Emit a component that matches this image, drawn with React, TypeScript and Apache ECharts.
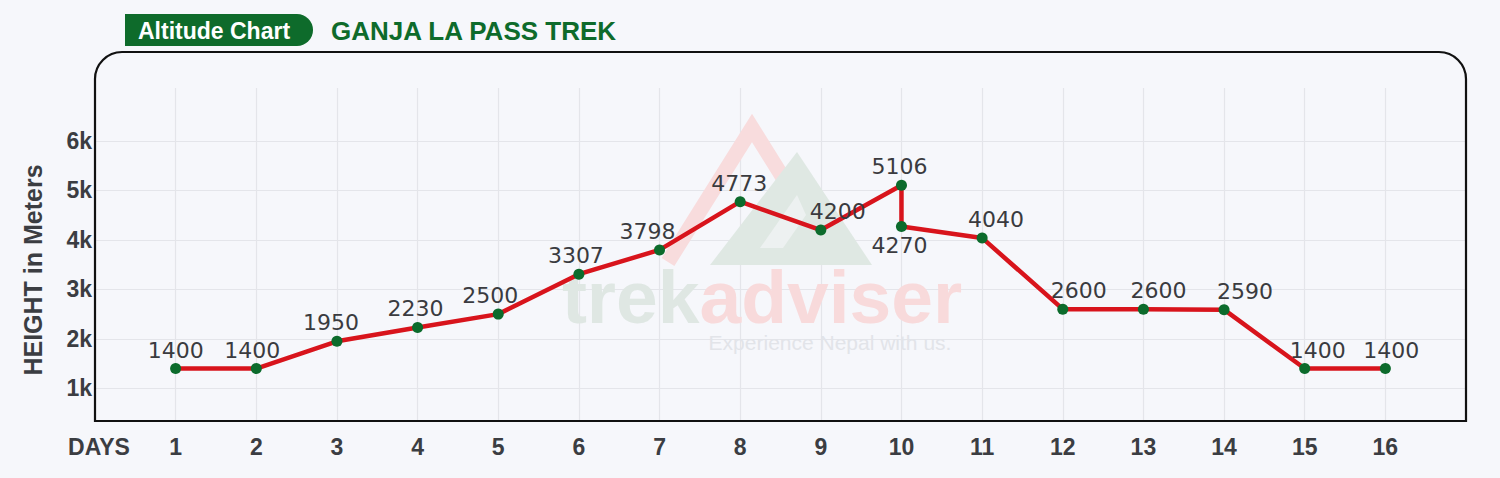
import React, { useEffect, useRef } from "react";
import * as echarts from "echarts";

const days = [1, 2, 3, 4, 5, 6, 7, 8, 9, 10, 10, 11, 12, 13, 14, 15, 16];
const heights = [1400, 1400, 1950, 2230, 2500, 3307, 3798, 4773, 4200, 5106, 4270, 4040, 2600, 2600, 2590, 1400, 1400];
const yTicks = [1000, 2000, 3000, 4000, 5000, 6000];
const xAxisTitle = "DAYS";
const yAxisTitle = "HEIGHT in Meters";
const badgeText = "Altitude Chart";
const titleText = "GANJA LA PASS TREK";

// label layout tweaks (horizontal shift, below-point flag)
const labelDx = [0, -4, -6, -2, -8, -3, -12, -1, 17, -2, -2, 14, 16, 15, 21, 13, 6];
const labelBelow = [false, false, false, false, false, false, false, false, false, false, true, false, false, false, false, false, false];

const BG = "#f6f7fb";
const GREEN = "#0e6b2b";
const TEXT = "#3b3d42";
const FONT = "Liberation Sans, Arial, sans-serif";

export default function App() {
  const ref = useRef<HTMLDivElement>(null);
  useEffect(() => {
    if (!ref.current) return;
    const chart = echarts.init(ref.current, null, { renderer: "svg" });
    const data = days.map((d, i) => ({
      value: [d, heights[i]],
      label: {
        position: labelBelow[i] ? "bottom" : "top",
        offset: [labelDx[i], 0],
      },
    }));
    chart.setOption({
      animation: false,
      backgroundColor: BG,
      grid: { left: 95, right: 34, top: 88, bottom: 57, containLabel: false },
      xAxis: {
        type: "value",
        min: 0,
        max: 17,
        interval: 1,
        axisLine: { show: false },
        axisTick: { show: false },
        splitLine: { show: true, lineStyle: { color: "#e4e5ea", width: 1.2 } },
        axisLabel: {
          margin: 14,
          color: TEXT,
          fontFamily: FONT,
          fontWeight: "bold",
          fontSize: 23,
          showMinLabel: true,
          showMaxLabel: true,
          formatter: (v: number) => (v === 0 ? "{d|" + xAxisTitle + "}" : v === 17 ? "" : String(v)),
          rich: {
            d: { color: TEXT, fontFamily: FONT, fontWeight: "bold", fontSize: 23, padding: [0, 0, 0, 8] },
          },
        },
      },
      yAxis: {
        type: "value",
        min: 340,
        max: 7070,
        axisLine: { show: false },
        axisTick: { show: false, customValues: yTicks },
        splitLine: { show: true, lineStyle: { color: "#e4e5ea", width: 1.2 } },
        axisLabel: {
          customValues: yTicks,
          margin: 3,
          color: TEXT,
          fontFamily: FONT,
          fontWeight: "bold",
          fontSize: 23,
          formatter: (v: number) => v / 1000 + "k",
        },
      },
      graphic: [
        {
          type: "polyline",
          z: 1,
          silent: true,
          shape: { points: [[668, 262], [752, 128], [800, 205]] },
          style: { fill: null, stroke: "#f8dcdd", lineWidth: 15, lineJoin: "miter" },
        },
        {
          type: "polygon",
          z: 1,
          silent: true,
          shape: { points: [[797, 152], [710, 265], [872, 265]] },
          style: { fill: "#dfe8e3" },
        },
        {
          type: "polygon",
          z: 1,
          silent: true,
          shape: { points: [[797, 195], [760, 248], [783, 248], [806, 215]] },
          style: { fill: "#edf1f1" },
        },
        {
          type: "text",
          z: 1,
          silent: true,
          x: 762,
          y: 297,
          style: {
            text: "{a|trek}{b|adviser}",
            align: "center",
            verticalAlign: "middle",
            rich: {
              a: { fontSize: 75, lineHeight: 56, fontWeight: "bold", fontFamily: FONT, fill: "#dfe7e3" },
              b: { fontSize: 75, lineHeight: 56, fontWeight: "bold", fontFamily: FONT, fill: "#f8dadb" },
            },
          },
        },
        {
          type: "text",
          z: 1,
          silent: true,
          x: 830,
          y: 342,
          style: {
            text: "Experience Nepal with us.",
            align: "center",
            verticalAlign: "middle",
            fontSize: 21,
            lineHeight: 18,
            fontFamily: FONT,
            fill: "#e2e4e9",
          },
        },
        {
          type: "rect",
          z: 100,
          silent: true,
          shape: { x: 95, y: 52, width: 1371, height: 369, r: [27, 27, 0, 0] },
          style: { fill: null, stroke: "#111111", lineWidth: 2.2 },
        },
        {
          type: "rect",
          z: 100,
          shape: { x: 125, y: 14, width: 188, height: 32, r: [0, 16, 16, 0] },
          style: { fill: GREEN },
        },
        {
          type: "text",
          z: 101,
          x: 138,
          y: 31,
          style: {
            text: badgeText,
            fill: "#ffffff",
            fontSize: 23,
            fontWeight: "bold",
            fontFamily: FONT,
            verticalAlign: "middle",
          },
        },
        {
          type: "text",
          z: 101,
          x: 331,
          y: 31,
          style: {
            text: titleText,
            fill: GREEN,
            fontSize: 26,
            fontWeight: "bold",
            fontFamily: FONT,
            verticalAlign: "middle",
          },
        },
        {
          type: "text",
          z: 101,
          x: 33,
          y: 270,
          rotation: Math.PI / 2,
          style: {
            text: yAxisTitle,
            fill: TEXT,
            fontSize: 25,
            fontWeight: "bold",
            fontFamily: FONT,
            align: "center",
            verticalAlign: "middle",
          },
        },
      ],
      series: [
        {
          type: "line",
          data,
          z: 5,
          symbol: "circle",
          symbolSize: 11,
          lineStyle: { color: "#d8141c", width: 4.5 },
          itemStyle: { color: "#0c6b2c" },
          label: {
            show: true,
            distance: 3,
            color: "#3a3b3f",
            fontSize: 22,
            lineHeight: 20,
            fontFamily: "DejaVu Sans, sans-serif",
            formatter: (p: any) => String(p.value[1]),
          },
        },
      ],
    });
    return () => chart.dispose();
  }, []);
  return (
    <div
      ref={ref}
      style={{ position: "absolute", left: 0, top: 0, width: 1500, height: 478, background: BG }}
    />
  );
}
